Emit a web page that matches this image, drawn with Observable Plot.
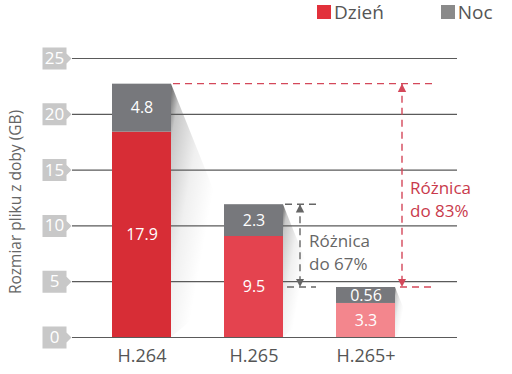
<!DOCTYPE html>
<html><head><meta charset="utf-8">
<script src="https://cdn.jsdelivr.net/npm/d3@7"></script>
<script src="https://cdn.jsdelivr.net/npm/@observablehq/plot@0.6"></script>
<style>
body{margin:0;background:#fff;font-family:"Open Sans",sans-serif;}
#wrap{position:relative;width:512px;height:374px;overflow:hidden;}
#legend{position:absolute;top:0;left:317px;display:flex;align-items:center;font-size:19px;color:#555;height:24px;}
#legend .sw{width:14px;height:14px;display:inline-block;margin-right:3px;}
#legend .item{display:flex;align-items:center;}
</style></head><body>
<div id="wrap"><div id="legend"></div></div>
<script>
const codecs = ["H.264", "H.265", "H.265+"];
const dayValues = [18.4, 9.05, 3.05];
const nightValues = [4.3, 2.85, 1.43];
const dayLabels = ["17.9", "9.5", "3.3"];
const nightLabels = ["4.8", "2.3", "0.56"];
const dayColors = ["#d72d36", "#e4434f", "#f3868d"];
const nightColor = "#77787c";
const seriesNames = ["Dzień", "Noc"];
const legendColors = ["#e2313b", "#8a8a8a"];
const yTicks = [0, 5, 10, 15, 20, 25];
const yTitle = "Rozmiar pliku z doby (GB)";
const diffGray = ["Różnica", "do 67%"];
const diffRed = ["Różnica", "do 83%"];

const rows = [];
codecs.forEach((c, i) => {
  rows.push({codec: c, y1: 0, y2: dayValues[i], label: dayLabels[i], color: dayColors[i]});
  rows.push({codec: c, y1: dayValues[i], y2: dayValues[i] + nightValues[i], label: nightLabels[i], color: nightColor});
});
rows.forEach(r => r.ymid = (r.y1 + r.y2) / 2);
const totals = codecs.map((c, i) => dayValues[i] + nightValues[i]);
const total = c => totals[codecs.indexOf(c)];

// legend
const leg = document.getElementById("legend");
seriesNames.forEach((s, i) => {
  const it = document.createElement("div");
  it.className = "item";
  if (i > 0) it.style.marginLeft = "57px";
  it.innerHTML = `<span class="sw" style="background:${legendColors[i]}"></span><span>${s}</span>`;
  leg.appendChild(it);
});

const tickBox = {
  draw(ctx) {
    ctx.moveTo(-12, -11); ctx.lineTo(12, -11); ctx.lineTo(12, -5); ctx.lineTo(17, 0);
    ctx.lineTo(12, 5); ctx.lineTo(12, 11); ctx.lineTo(-12, 11); ctx.closePath();
  }
};

function bandOf(scales) {
  const x = scales.x;
  const bw = typeof x.bandwidth === "function" ? x.bandwidth() : scales.scales.x.bandwidth;
  return {x, bw};
}

function shadows(index, scales) {
  const {x, bw} = bandOf(scales);
  const y = scales.y;
  const g = d3.create("svg:g");
  const defs = g.append("defs");
  const grad = defs.append("linearGradient").attr("id", "shadowGrad")
    .attr("x1", 0).attr("y1", 0).attr("x2", 1).attr("y2", 0.6);
  grad.append("stop").attr("offset", 0).attr("stop-color", "#000").attr("stop-opacity", 0.6);
  grad.append("stop").attr("offset", 0.1).attr("stop-color", "#000").attr("stop-opacity", 0.22);
  grad.append("stop").attr("offset", 0.35).attr("stop-color", "#000").attr("stop-opacity", 0.06);
  grad.append("stop").attr("offset", 0.6).attr("stop-color", "#000").attr("stop-opacity", 0);
  codecs.forEach(c => {
    const x2 = x(c) + bw, yt = y(total(c)), yb = y(0), H = yb - yt;
    g.append("path")
      .attr("d", `M${x2},${yt}L${x2 + 0.3 * H},${yt + 0.75 * H}L${x2},${yb}Z`)
      .attr("fill", "url(#shadowGrad)");
  });
  return g.node();
}

function annotations(index, scales) {
  const {x, bw} = bandOf(scales);
  const y = scales.y;
  const right = c => x(c) + bw;
  const g = d3.create("svg:g").attr("font-family", "Open Sans, sans-serif").attr("text-anchor", "start");
  const defs = g.append("defs");
  [["arrRed", "#d4485a"], ["arrGray", "#666"]].forEach(([id, col]) => {
    defs.append("marker").attr("id", id).attr("viewBox", "0 0 10 10").attr("refX", 10).attr("refY", 5)
      .attr("markerWidth", 6).attr("markerHeight", 7).attr("orient", "auto-start-reverse")
      .append("path").attr("d", "M0,0L10,5L0,10Z").attr("fill", col);
  });
  const line = (x1, y1, x2, y2, col, marker) => {
    const l = g.append("line").attr("x1", x1).attr("y1", y1).attr("x2", x2).attr("y2", y2)
      .attr("stroke", col).attr("stroke-width", 1.4).attr("stroke-dasharray", "7,5");
    if (marker) l.attr("marker-start", `url(#${marker})`).attr("marker-end", `url(#${marker})`);
  };
  const text = (tx, ty, lines, col) => {
    const t = g.append("text").attr("x", tx).attr("y", ty).attr("fill", col).attr("font-size", 17).attr("text-anchor", "start");
    lines.forEach((s, i) => t.append("tspan").attr("x", tx).attr("dy", i === 0 ? "-0.25em" : "1.35em").text(s));
  };
  // gray comparison: H.265 vs H.265+
  const gr = "#666", gx = right("H.265");
  const gTop = y(total("H.265")), gBot = y(total("H.265+"));
  line(gx + 2, gTop, gx + 33, gTop, gr);
  line(gx + 4, gBot, gx + 33, gBot, gr);
  line(gx + 17, gTop, gx + 17, gBot, gr, "arrGray");
  text(gx + 26, (gTop + gBot) / 2 + 6, diffGray, gr);
  // red comparison: H.264 vs H.265+
  const rd = "#d4485a", rx = right("H.265+");
  const rTop = y(total("H.264")), rBot = y(total("H.265+"));
  line(right("H.264") + 2, rTop, rx + 41, rTop, rd);
  line(rx + 5, rBot, rx + 41, rBot, rd);
  line(rx + 7, rTop, rx + 7, rBot, rd, "arrRed");
  text(rx + 15, (rTop + rBot) / 2 + 13, diffRed, "#c93a4c");
  return g.node();
}

const chart = Plot.plot({
  width: 512,
  height: 374,
  marginLeft: 72,
  marginRight: 55,
  marginTop: 58,
  marginBottom: 37,
  style: {fontFamily: "Open Sans, sans-serif", background: "transparent"},
  x: {type: "band", domain: codecs, paddingInner: 0.474, paddingOuter: 0.452, align: 0.394, label: null},
  y: {domain: [0, 25], axis: null},
  color: {type: "identity"},
  marks: [
    shadows,
    Plot.ruleY(yTicks, {stroke: "#5a5a5a", strokeWidth: 1.2}),
    Plot.barY(rows, {x: "codec", y1: "y1", y2: "y2", fill: "color"}),
    Plot.text(rows, {x: "codec", y: "ymid", text: "label", fill: "white", fontSize: 16}),
    Plot.dot(yTicks, {y: d => d, frameAnchor: "left", dx: -18, symbol: tickBox, fill: "#c8c8c8", stroke: "none"}),
    Plot.text(yTicks, {y: d => d, text: d => String(d), frameAnchor: "left", textAnchor: "middle", dx: -18, fill: "white", fontSize: 17}),
    Plot.text([yTitle], {text: d => d, frameAnchor: "left", textAnchor: "middle", dx: -56, dy: 4, rotate: -90, fill: "#666", fontSize: 15.5}),
    Plot.axisX({tickSize: 0, tickPadding: 12, fontSize: 18, color: "#555", label: null}),
    annotations
  ]
});
document.getElementById("wrap").appendChild(chart);
chart.style.position = "absolute";
chart.style.left = "0";
chart.style.top = "0";
</script>
</body></html>
